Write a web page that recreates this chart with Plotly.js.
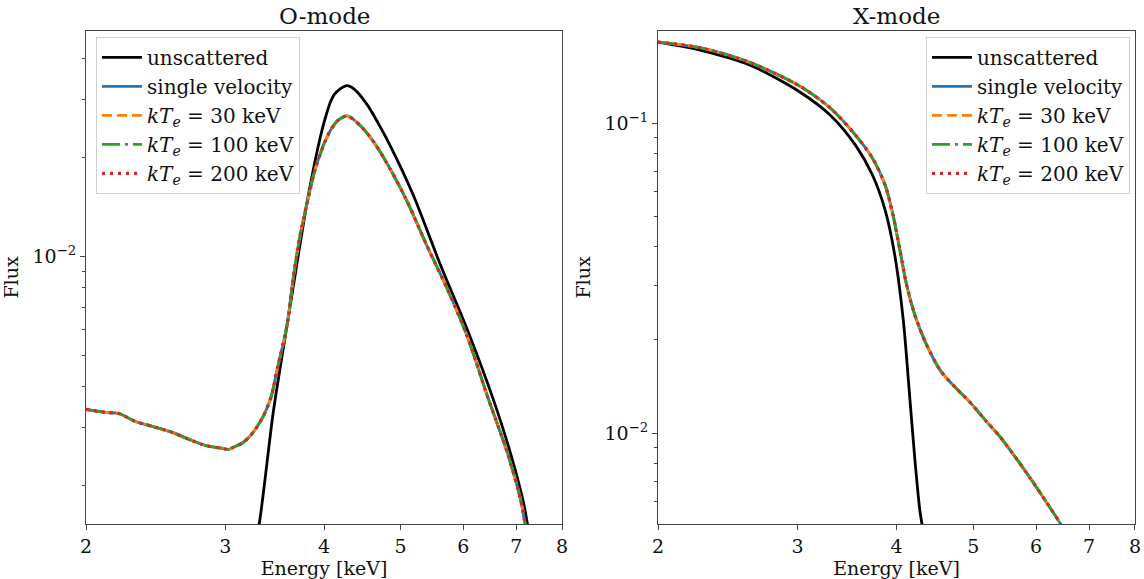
<!DOCTYPE html>
<html>
<head>
<meta charset="utf-8">
<script src="https://cdn.plot.ly/plotly-3.0.1.min.js"></script>
<style>html,body{margin:0;padding:0;background:#fff;}#chart{width:1144px;height:579px;}</style>
</head>
<body>
<div id="chart"></div>
<script>
// ---- O-mode data ----
const oEnergyUnscattered = [3.28, 3.31, 3.45, 3.59, 3.71, 3.82, 3.96, 4.02, 4.07, 4.12, 4.18, 4.23, 4.28, 4.34, 4.40, 4.54, 4.70, 4.85, 5.19, 5.61, 6.07, 6.55, 6.88, 7.15, 7.26];
const oFluxUnscattered   = [1.40e-3, 1.52e-3, 3.345e-3, 6.12e-3, 1.00e-2, 1.524e-2, 2.32e-2, 2.66e-2, 2.92e-2, 3.10e-2, 3.21e-2, 3.27e-2, 3.30e-2, 3.26e-2, 3.17e-2, 2.88e-2, 2.50e-2, 2.17e-2, 1.53e-2, 9.45e-3, 5.98e-3, 3.66e-3, 2.53e-3, 1.78e-3, 1.45e-3];
const oEnergyScattered = [2.00, 2.12, 2.20, 2.31, 2.43, 2.58, 2.70, 2.84, 2.98, 3.03, 3.07, 3.16, 3.25, 3.35, 3.43, 3.49, 3.59, 3.66, 3.73, 3.81, 3.90, 4.04, 4.16, 4.28, 4.45, 4.62, 4.85, 5.10, 5.40, 5.73, 6.07, 6.44, 6.82, 7.09, 7.19, 7.25];
const oFluxScattered   = [3.42e-3, 3.345e-3, 3.32e-3, 3.14e-3, 3.03e-3, 2.90e-3, 2.77e-3, 2.65e-3, 2.60e-3, 2.58e-3, 2.62e-3, 2.71e-3, 2.90e-3, 3.25e-3, 3.74e-3, 4.52e-3, 6.12e-3, 8.69e-3, 1.151e-2, 1.461e-2, 1.842e-2, 2.32e-2, 2.58e-2, 2.67e-2, 2.49e-2, 2.23e-2, 1.842e-2, 1.461e-2, 1.073e-2, 7.93e-3, 5.70e-3, 3.74e-3, 2.53e-3, 1.82e-3, 1.52e-3, 1.40e-3];

// ---- X-mode data ----
const xEnergyUnscattered = [2.00, 2.26, 2.61, 3.02, 3.30, 3.55, 3.73, 3.87, 3.98, 4.08, 4.15, 4.22, 4.28, 4.31, 4.34];
const xFluxUnscattered   = [0.1825, 0.172, 0.154, 0.126, 0.106, 0.0849, 0.068, 0.0524, 0.0375, 0.0231, 0.01376, 0.00818, 0.00565, 0.00505, 0.0046];
const xEnergyScattered = [2.00, 2.26, 2.61, 3.02, 3.30, 3.55, 3.73, 3.87, 3.96, 4.04, 4.12, 4.22, 4.35, 4.54, 4.74, 4.95, 5.18, 5.41, 5.65, 5.90, 6.16, 6.40, 6.47, 6.52];
const xFluxScattered   = [0.1825, 0.175, 0.157, 0.1316, 0.1118, 0.0915, 0.0771, 0.0631, 0.0505, 0.0389, 0.030, 0.0240, 0.01966, 0.01597, 0.01408, 0.01259, 0.0110, 0.0097, 0.00837, 0.00716, 0.00608, 0.00524, 0.0050, 0.0048];

const seriesNames = ['unscattered', 'single velocity',
  '<i>kT</i><sub><i>e</i></sub> = 30 keV',
  '<i>kT</i><sub><i>e</i></sub> = 100 keV',
  '<i>kT</i><sub><i>e</i></sub> = 200 keV'];
const xTickVals = [2, 3, 4, 5, 6, 7, 8];
const xTickText = ['2', '3', '4', '5', '6', '7', '8'];

const styles = [
  {color: '#000000', width: 2.8, dash: 'solid'},
  {color: '#1f77b4', width: 2.8, dash: 'solid'},
  {color: '#ff7f0e', width: 2.8, dash: '10px,5px'},
  {color: '#2ca02c', width: 2.8, dash: '18px,5px,3px,5px'},
  {color: '#d62728', width: 3.2, dash: '3px,5px'}
];

function buildTraces(eU, fU, eS, fS, xa, ya, legendId) {
  const tr = [];
  for (let i = 0; i < 5; i++) {
    const un = i === 0;
    tr.push({
      x: un ? eU : eS, y: un ? fU : fS,
      type: 'scatter', mode: 'lines', name: seriesNames[i],
      xaxis: xa, yaxis: ya, legend: legendId, legendgroup: legendId + i,
      line: {color: styles[i].color, width: styles[i].width, dash: styles[i].dash, shape: 'spline', smoothing: 0.8},
      hoverinfo: 'skip'
    });
  }
  return tr;
}

const data = [].concat(
  buildTraces(oEnergyUnscattered, oFluxUnscattered, oEnergyScattered, oFluxScattered, 'x', 'y', 'legend'),
  buildTraces(xEnergyUnscattered, xFluxUnscattered, xEnergyScattered, xFluxScattered, 'x2', 'y2', 'legend2')
);

const serif = '"DejaVu Serif", serif';
const axCommon = {
  type: 'log', showline: true, linecolor: '#444', linewidth: 1, mirror: true,
  ticks: 'outside', ticklen: 5, tickwidth: 1, tickcolor: '#444',
  showgrid: false, zeroline: false,
  tickfont: {family: serif, size: 19, color: '#111'}
};
function xAxis(domain, anchor) {
  return Object.assign({}, axCommon, {
    domain: domain, anchor: anchor,
    range: [Math.log10(2), Math.log10(8)],
    tickmode: 'array', tickvals: xTickVals, ticktext: xTickText,
    title: {text: 'Energy [keV]', font: {family: serif, size: 19, color: '#111'}, standoff: 3}
  });
}
function yAxis(anchor, range, vals, text, minorVals) {
  return Object.assign({}, axCommon, {
    anchor: anchor, range: range,
    tickmode: 'array', tickvals: vals, ticktext: text,
    minor: {tickmode: 'array', tickvals: minorVals, ticks: 'outside', ticklen: 3, tickcolor: '#444', showgrid: false},
    title: {text: 'Flux', font: {family: serif, size: 19, color: '#111'}, standoff: 8}
  });
}
const minorLeft = [0.002, 0.003, 0.004, 0.005, 0.006, 0.007, 0.008, 0.009, 0.02, 0.03, 0.04];
const minorRight = [0.005, 0.006, 0.007, 0.008, 0.009, 0.02, 0.03, 0.04, 0.05, 0.06, 0.07, 0.08, 0.09];

const legendCommon = {
  font: {family: serif, size: 20, color: '#111'},
  bgcolor: 'rgba(255,255,255,0.85)', bordercolor: '#d0d0d0', borderwidth: 1,
  yanchor: 'top', y: 0.988, tracegroupgap: 0, itemwidth: 40
};

const layout = {
  width: 1144, height: 579,
  margin: {l: 86, r: 9, t: 31, b: 55},
  paper_bgcolor: '#fff', plot_bgcolor: '#fff',
  showlegend: true,
  xaxis: xAxis([0, 0.4538], 'y'),
  xaxis2: xAxis([0.5453, 1], 'y2'),
  yaxis: yAxis('x', [-2.815, -1.315], [0.01], ['10<sup>−2</sup>'], minorLeft),
  yaxis2: yAxis('x2', [-2.293, -0.703], [0.01, 0.1], ['10<sup>−2</sup>', '10<sup>−1</sup>'], minorRight),
  legend: Object.assign({}, legendCommon, {x: 0.0095, xanchor: 'left'}),
  legend2: Object.assign({}, legendCommon, {x: 0.9952, xanchor: 'right'}),
  annotations: [
    {text: 'O-mode', xref: 'x domain', yref: 'paper', x: 0.5, y: 1, yanchor: 'bottom', yshift: 0, showarrow: false, font: {family: serif, size: 23, color: '#111'}},
    {text: 'X-mode', xref: 'x2 domain', yref: 'paper', x: 0.5, y: 1, yanchor: 'bottom', yshift: 0, showarrow: false, font: {family: serif, size: 23, color: '#111'}}
  ]
};

Plotly.newPlot('chart', data, layout, {displayModeBar: false, staticPlot: true});
</script>
</body>
</html>
